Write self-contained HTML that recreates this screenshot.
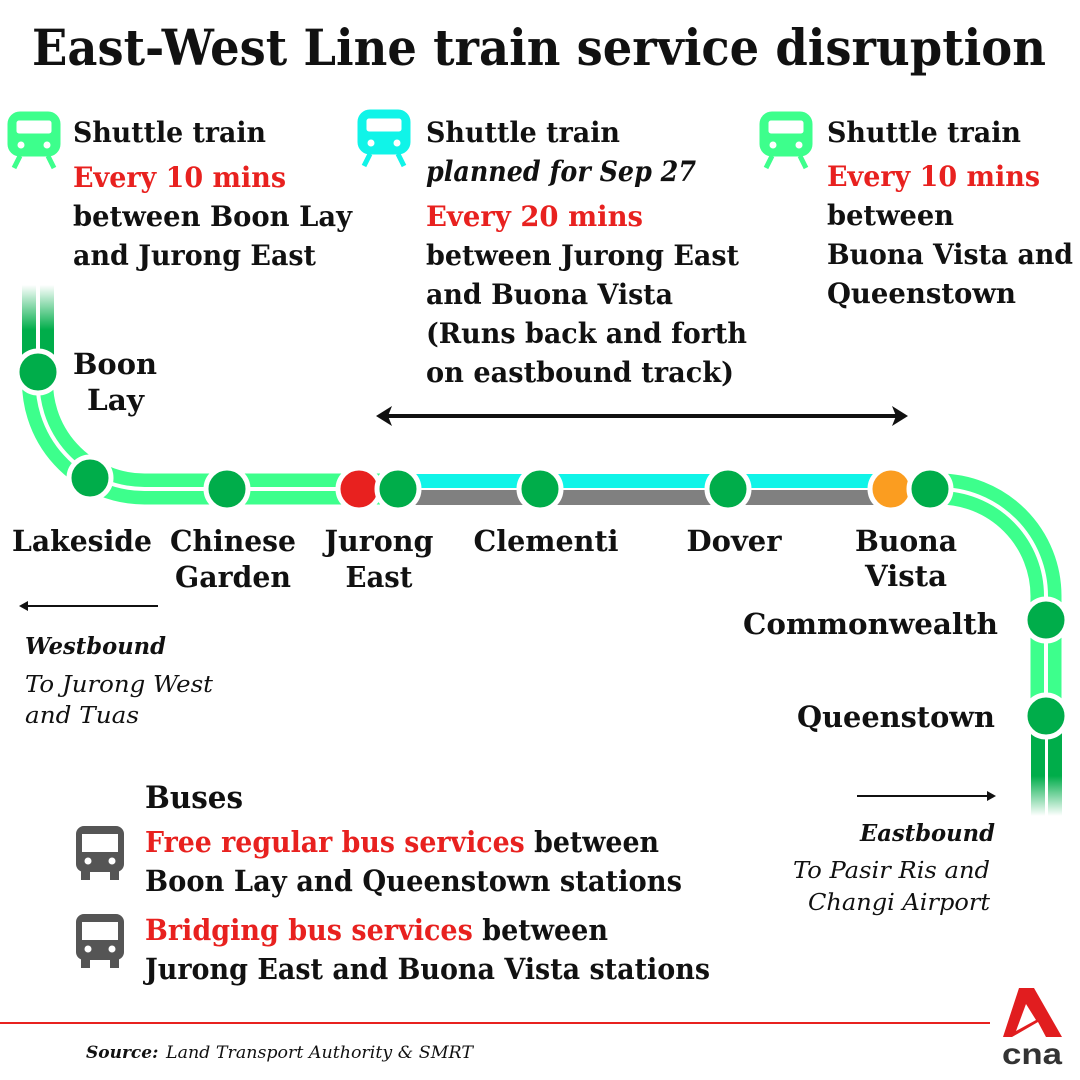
<!DOCTYPE html>
<html><head><meta charset="utf-8"><style>
html,body{margin:0;padding:0;background:#fff}
svg{display:block}
text{font-family:"DejaVu Serif","Liberation Serif",serif;font-weight:bold;fill:#111}
.r{fill:#e8211f}
.it{font-style:italic}
</style></head><body>
<svg width="1080" height="1080" viewBox="0 0 1080 1080">
<defs>
<linearGradient id="fadeT" x1="0" y1="0" x2="0" y2="1"><stop offset="0" stop-color="#00ad4a" stop-opacity="0"/><stop offset="0.5" stop-color="#00ad4a" stop-opacity="1"/></linearGradient>
<linearGradient id="fadeB" x1="0" y1="0" x2="0" y2="1"><stop offset="0.6" stop-color="#00ad4a" stop-opacity="1"/><stop offset="1" stop-color="#00ad4a" stop-opacity="0"/></linearGradient>
<g id="train"><rect x="0" y="0" width="52" height="44" rx="12"/><rect x="8" y="8" width="36" height="14" rx="3" fill="#fff"/><circle cx="13" cy="33" r="4" fill="#fff"/><circle cx="39" cy="33" r="4" fill="#fff"/><path d="M12 44 L6 56 M40 44 L46 56" stroke-width="5"/></g>
<g id="bus"><rect x="0" y="0" width="48" height="46" rx="8" fill="#555"/><rect x="6" y="8" width="36" height="18" fill="#fff"/><circle cx="12" cy="35" r="3.5" fill="#fff"/><circle cx="36" cy="35" r="3.5" fill="#fff"/><rect x="5" y="44" width="9" height="10" fill="#555"/><rect x="34" y="44" width="9" height="10" fill="#555"/></g>
</defs>
<text x="32" y="65" font-size="50" textLength="1014" lengthAdjust="spacingAndGlyphs">East-West Line train service disruption</text>

<g fill="#3dff8c" stroke="#3dff8c"><use href="#train" x="8" y="112"/><use href="#train" x="760" y="112"/></g>
<g fill="#10f4e8" stroke="#10f4e8"><use href="#train" x="358" y="110"/></g>

<g font-size="28">
<text x="73" y="142" textLength="193" lengthAdjust="spacingAndGlyphs">Shuttle train</text>
<text x="73" y="187" class="r" textLength="213" lengthAdjust="spacingAndGlyphs">Every 10 mins</text>
<text x="73" y="226" textLength="279" lengthAdjust="spacingAndGlyphs">between Boon Lay</text>
<text x="73" y="265" textLength="243" lengthAdjust="spacingAndGlyphs">and Jurong East</text>
<text x="426" y="142" textLength="194" lengthAdjust="spacingAndGlyphs">Shuttle train</text>
<text x="426" y="181" class="it" textLength="270" lengthAdjust="spacingAndGlyphs">planned for Sep 27</text>
<text x="426" y="226" class="r" textLength="217" lengthAdjust="spacingAndGlyphs">Every 20 mins</text>
<text x="426" y="265" textLength="313" lengthAdjust="spacingAndGlyphs">between Jurong East</text>
<text x="426" y="304" textLength="247" lengthAdjust="spacingAndGlyphs">and Buona Vista</text>
<text x="426" y="343" textLength="321" lengthAdjust="spacingAndGlyphs">(Runs back and forth</text>
<text x="426" y="382" textLength="308" lengthAdjust="spacingAndGlyphs">on eastbound track)</text>
<text x="827" y="142" textLength="194" lengthAdjust="spacingAndGlyphs">Shuttle train</text>
<text x="827" y="186" class="r" textLength="213" lengthAdjust="spacingAndGlyphs">Every 10 mins</text>
<text x="827" y="225" textLength="127" lengthAdjust="spacingAndGlyphs">between</text>
<text x="827" y="264" textLength="246" lengthAdjust="spacingAndGlyphs">Buona Vista and</text>
<text x="827" y="303" textLength="189" lengthAdjust="spacingAndGlyphs">Queenstown</text>
</g>

<!-- double arrow -->
<line x1="385" y1="416" x2="899" y2="416" stroke="#111" stroke-width="4"/>
<path d="M376 416 L392 406 L388 416 L392 426Z M908 416 L892 406 L896 416 L892 426Z" fill="#111"/>

<!-- tracks -->
<rect x="22" y="285" width="14" height="90" fill="url(#fadeT)"/>
<rect x="40" y="285" width="14" height="90" fill="url(#fadeT)"/>
<path d="M29 372 A109 109 0 0 0 138 481 L370 481" fill="none" stroke="#3dff8c" stroke-width="14"/>
<path d="M47 372 A91 91 0 0 0 138 463" fill="none" stroke="none"/>
<path d="M47 372 A92 92 0 0 0 138 464" fill="none"/>
<path d="M38 372 A100 100 0 0 0 138 489" fill="none"/>
<g fill="none" stroke-width="14">
<path d="M30 372 A108 108 0 0 0 138 480 L370 480" stroke="none"/>
</g>
<path d="M46 372 A92 92 0 0 0 138 464" fill="none" stroke="none"/>
<!-- simpler: use wide stroke and white center line -->
<path d="M38 372 A107 107 0 0 0 145 489 L380 489" fill="none" stroke="#3dff8c" stroke-width="31"/>
<path d="M38 372 A107 107 0 0 0 145 489 L380 489" fill="none" stroke="#fff" stroke-width="4"/>
<rect x="400" y="474" width="480" height="14" fill="#10f4e8"/>
<rect x="400" y="490" width="480" height="15" fill="#808080"/>
<path d="M920 489 L939 489 A107 107 0 0 1 1046 596 L1046 720" fill="none" stroke="#3dff8c" stroke-width="31"/>
<path d="M920 489 L939 489 A107 107 0 0 1 1046 596 L1046 720" fill="none" stroke="#fff" stroke-width="4"/>
<rect x="1031" y="716" width="14" height="100" fill="url(#fadeB)"/>
<rect x="1048" y="716" width="14" height="100" fill="url(#fadeB)"/>

<g stroke="#fff" stroke-width="5" fill="#00ad4a">
<circle cx="38" cy="372" r="21"/>
<circle cx="90" cy="478" r="21"/>
<circle cx="227" cy="489" r="21"/>
<circle cx="359" cy="489" r="21" fill="#e8211f"/>
<circle cx="398" cy="489" r="21"/>
<circle cx="540" cy="489" r="21"/>
<circle cx="728" cy="489" r="21"/>
<circle cx="891" cy="489" r="21" fill="#fb9d20"/>
<circle cx="930" cy="489" r="21"/>
<circle cx="1046" cy="620" r="21"/>
<circle cx="1046" cy="716" r="21"/>
</g>

<g font-size="29">
<text x="73" y="374" textLength="84" lengthAdjust="spacingAndGlyphs">Boon</text>
<text x="87" y="410" textLength="57" lengthAdjust="spacingAndGlyphs">Lay</text>
<text x="12" y="551" textLength="140" lengthAdjust="spacingAndGlyphs">Lakeside</text>
<text x="233" y="551" text-anchor="middle" textLength="126" lengthAdjust="spacingAndGlyphs">Chinese</text>
<text x="233" y="587" text-anchor="middle" textLength="116" lengthAdjust="spacingAndGlyphs">Garden</text>
<text x="379" y="551" text-anchor="middle" textLength="109" lengthAdjust="spacingAndGlyphs">Jurong</text>
<text x="379" y="587" text-anchor="middle" textLength="67" lengthAdjust="spacingAndGlyphs">East</text>
<text x="546" y="551" text-anchor="middle" textLength="145" lengthAdjust="spacingAndGlyphs">Clementi</text>
<text x="734" y="551" text-anchor="middle" textLength="95" lengthAdjust="spacingAndGlyphs">Dover</text>
<text x="906" y="551" text-anchor="middle" textLength="102" lengthAdjust="spacingAndGlyphs">Buona</text>
<text x="906" y="586" text-anchor="middle" textLength="82" lengthAdjust="spacingAndGlyphs">Vista</text>
<text x="998" y="634" text-anchor="end" textLength="255" lengthAdjust="spacingAndGlyphs">Commonwealth</text>
<text x="995" y="727" text-anchor="end" textLength="198" lengthAdjust="spacingAndGlyphs">Queenstown</text>
</g>

<line x1="24" y1="606" x2="158" y2="606" stroke="#111" stroke-width="2"/>
<path d="M19 606 L28 601 L28 611Z" fill="#111"/>
<text x="25" y="654" font-size="23" class="it" textLength="141" lengthAdjust="spacingAndGlyphs">Westbound</text>
<text x="25" y="692" font-size="23" class="it" font-weight="normal" style="font-weight:normal" textLength="188" lengthAdjust="spacingAndGlyphs">To Jurong West</text>
<text x="25" y="723" font-size="23" class="it" style="font-weight:normal" textLength="114" lengthAdjust="spacingAndGlyphs">and Tuas</text>

<line x1="857" y1="796" x2="990" y2="796" stroke="#111" stroke-width="2"/>
<path d="M996 796 L987 791 L987 801Z" fill="#111"/>
<text x="995" y="841" font-size="23" class="it" text-anchor="end" textLength="135" lengthAdjust="spacingAndGlyphs">Eastbound</text>
<text x="990" y="878" font-size="23" class="it" text-anchor="end" style="font-weight:normal" textLength="197" lengthAdjust="spacingAndGlyphs">To Pasir Ris and</text>
<text x="990" y="910" font-size="23" class="it" text-anchor="end" style="font-weight:normal" textLength="182" lengthAdjust="spacingAndGlyphs">Changi Airport</text>

<text x="145" y="808" font-size="31" textLength="98" lengthAdjust="spacingAndGlyphs">Buses</text>
<use href="#bus" x="76" y="826"/>
<use href="#bus" x="76" y="914"/>
<g font-size="29">
<text x="145" y="852" textLength="514" lengthAdjust="spacingAndGlyphs"><tspan class="r">Free regular bus services</tspan> between</text>
<text x="145" y="891" textLength="537" lengthAdjust="spacingAndGlyphs">Boon Lay and Queenstown stations</text>
<text x="145" y="940" textLength="463" lengthAdjust="spacingAndGlyphs"><tspan class="r">Bridging bus services</tspan> between</text>
<text x="145" y="979" textLength="565" lengthAdjust="spacingAndGlyphs">Jurong East and Buona Vista stations</text>
</g>

<line x1="0" y1="1023" x2="990" y2="1023" stroke="#e8211f" stroke-width="2"/>
<text x="86" y="1058" font-size="17" class="it">Source:</text>
<text x="166" y="1058" font-size="17" class="it" style="font-weight:normal" textLength="307" lengthAdjust="spacingAndGlyphs">Land Transport Authority &amp; SMRT</text>

<!-- cna logo -->
<path d="M1019 988 L1034 988 L1062 1037 L1046 1037 L1038 1022 L1012 1037 L1003 1037Z" fill="#e11d1f"/>
<path d="M1026 1004 L1036 1020 L1016 1031Z" fill="#fff"/>
<text x="1032" y="1064" font-size="30" text-anchor="middle" style="font-family:'Liberation Sans',sans-serif;font-weight:bold;fill:#333" textLength="60" lengthAdjust="spacingAndGlyphs">cna</text>
</svg>
</body></html>
